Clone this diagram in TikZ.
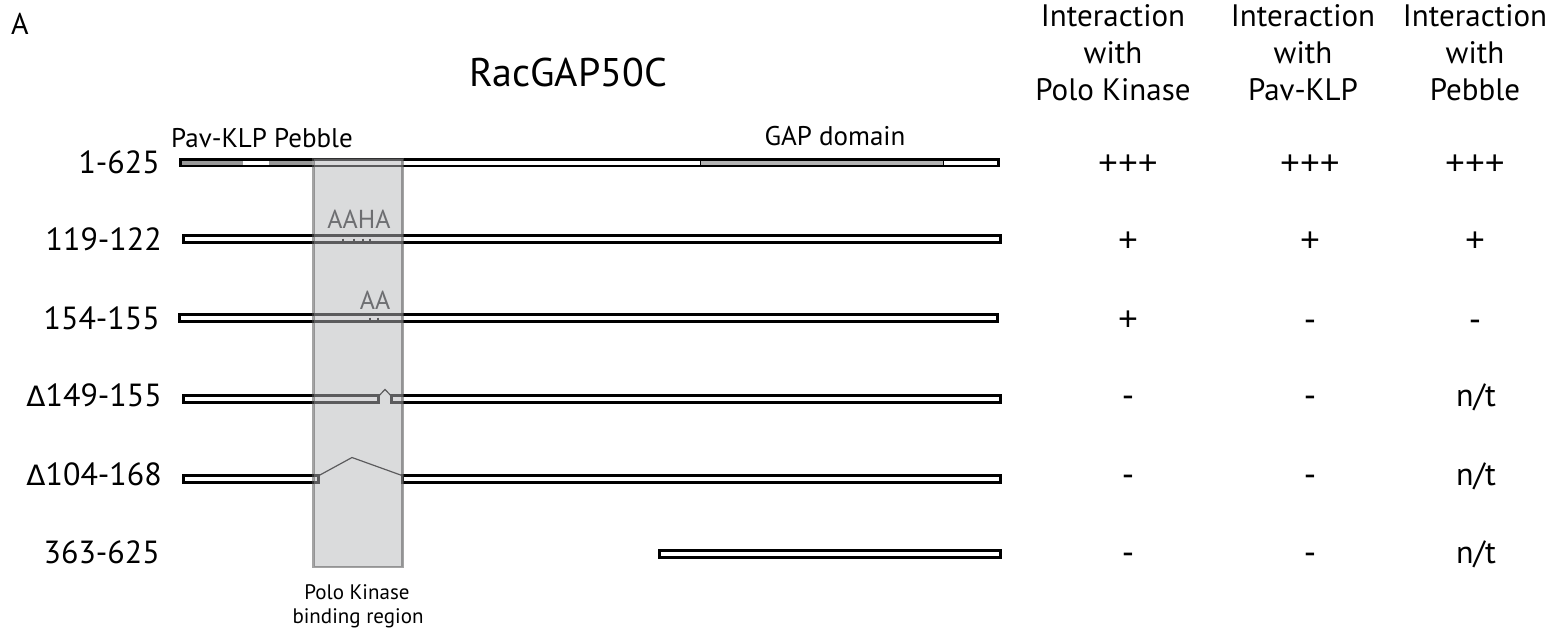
\documentclass[tikz,border=0pt]{standalone}
\usepackage{fontspec}
\setmainfont{PT Sans}
\newfontfamily\gk{DejaVu Sans}
\newfontfamily\plusfont{Liberation Sans}
\definecolor{domA}{HTML}{999999}
\definecolor{domB}{HTML}{B3B3B3}
\definecolor{boxfill}{HTML}{B6B7BA}
\definecolor{txtgray}{HTML}{6D6E71}
\tikzset{
  barline/.style={draw=black,line width=2.8pt},
  barfill/.style={fill=white},
  tick/.style={draw=black,line width=1.6pt},
  rowlab/.style={anchor=base east,inner sep=0pt,font=\fontsize{32}{36}\selectfont},
  val/.style={anchor=base,inner sep=0pt,font=\plusfont\fontsize{34}{36}\selectfont},
  valt/.style={anchor=base,inner sep=0pt,font=\fontsize{32}{36}\selectfont},
  head/.style={anchor=base,inner sep=0pt,font=\fontsize{31}{36}\selectfont},
  dom/.style={anchor=base,inner sep=0pt,font=\fontsize{27}{32}\selectfont},
  mut/.style={anchor=base,inner sep=0pt,text=txtgray,font=\fontsize{26}{30}\selectfont},
  small/.style={anchor=base,inner sep=0pt,font=\fontsize{21}{24}\selectfont},
}
\newcommand{\mybar}[3]{% x1, x2, ycenter
  \path[barfill] ({#1+1.4},{#3-3.4}) rectangle ({#2-1.4},{#3+3.4});
}
\newcommand{\mybarout}[3]{%
  \path[barline] ({#1+1.4},{#3-3.4}) rectangle ({#2-1.4},{#3+3.4});
}
\begin{document}
\begin{tikzpicture}[x=1pt,y=-1pt]
\useasboundingbox (0,0) rectangle (1559,641);

% panel letter and title
\node[anchor=base,inner sep=0pt,font=\fontsize{30}{32}\selectfont] (panel) at (20,34) {A};
\node[anchor=base,inner sep=0pt,font=\fontsize{40}{44}\selectfont] (title) at (568,86) {RacGAP50C};

% domain labels
\node[dom,anchor=base west] (pavlab) at (171,147) {Pav-KLP Pebble};
\node[dom] (gaplab) at (835,145) {GAP domain};

% row 1: 1-625
\mybar{179}{1000}{162.5}
\fill[domA] (180.3,159.2) rectangle (243,165.8);
\fill[domA] (269,159.2) rectangle (312,165.8);
\fill[domB] (700,159.2) rectangle (943,165.8);
\draw[line width=0.8pt] (700,159.2) -- (700,165.8) (943,159.2) -- (943,165.8);
\mybarout{179}{1000}{162.5}

% row 2: 119-122
\mybar{182}{1002}{239}
\mybarout{182}{1002}{239}
\foreach \xx in {343,354,363,370} \draw[tick] (\xx,238.5) -- (\xx,242.5);

% row 3: 154-155
\mybar{178}{999}{318}
\mybarout{178}{999}{318}
\foreach \xx in {370,378} \draw[tick] (\xx,317.5) -- (\xx,321.5);

% row 4: delta 149-155
\mybar{182}{380}{399}
\mybar{390}{1002}{399}
\mybarout{182}{380}{399}
\mybarout{390}{1002}{399}
\draw[line width=1.2pt] (379,395.7) -- (385,389.5) -- (391,395.7);

% row 5: delta 104-168
\mybar{182}{320}{479}
\mybar{401}{1002}{479}
\mybarout{182}{320}{479}
\mybarout{401}{1002}{479}
\draw[line width=1.2pt] (319,475.5) -- (352,457.5) -- (402,475.5);

% row 6: 363-625
\mybar{658}{1002}{554}
\mybarout{658}{1002}{554}

% Polo kinase binding region box
\path[fill=boxfill,fill opacity=0.5,draw=black!65,draw opacity=0.55,line width=2.6pt] (313.5,159) rectangle (402.5,567);

% mutation labels
\node[mut] (aaha) at (359,228) {AAHA};
\node[mut] (aa) at (375,309) {AA};

% box caption
\node[small] (polo1) at (357,599) {Polo Kinase};
\node[small] (polo2) at (358,623) {binding region};

% row labels
\node[rowlab] (r1) at (160,173) {1-625};
\node[rowlab] (r2) at (162,250) {119-122};
\node[rowlab] (r3) at (160,329) {154-155};
\node[rowlab] (r4) at (162,406) {{\gk\fontsize{28}{30}\selectfont Δ}149-155};
\node[rowlab] (r5) at (162,485) {{\gk\fontsize{28}{30}\selectfont Δ}104-168};
\node[rowlab] (r6) at (160,563) {363-625};

% headers
\foreach \cx/\last/\nm in {1113/Polo Kinase/a, 1303/Pav-KLP/b, 1475/Pebble/c} {
  \node[head] (h\nm1) at (\cx,26) {Interaction};
  \node[head] (h\nm2) at (\cx,63) {with};
  \node[head] (h\nm3) at (\cx,100) {\last};
}

% values
\foreach \y/\va/\vb/\vc [count=\i] in {174/+++/+++/+++, 251/+/+/+, 330/+/-/-} {
  \node[val] (v\i a) at (1128,\y) {\va};
  \node[val] (v\i b) at (1310,\y) {\vb};
  \node[val] (v\i c) at (1475,\y) {\vc};
}
\foreach \y/\i in {406/4, 485/5, 563/6} {
  \node[val] (v\i a) at (1128,\y) {-};
  \node[val] (v\i b) at (1310,\y) {-};
  \node[valt] (v\i c) at (1476,\y) {n/t};
}
\end{tikzpicture}
\end{document}
